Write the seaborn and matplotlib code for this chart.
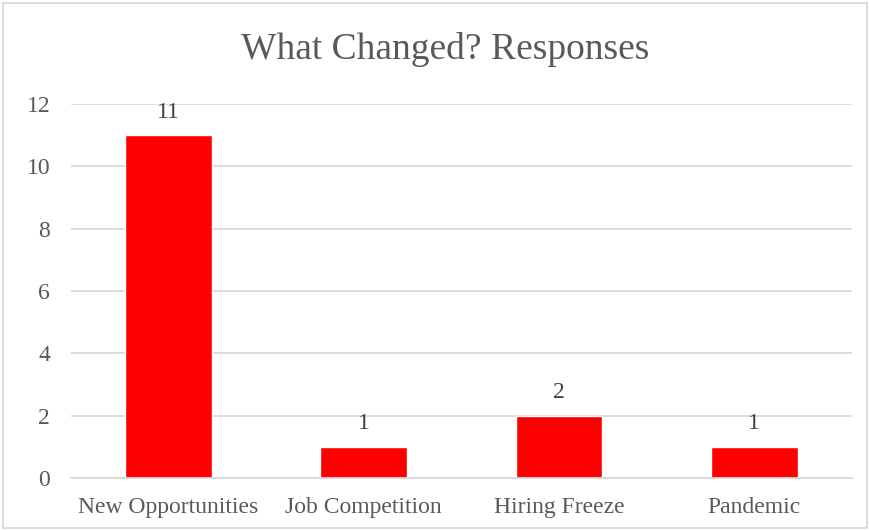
import matplotlib
matplotlib.use("Agg")
import matplotlib.pyplot as plt
import seaborn as sns
import pandas as pd

categories = ["New Opportunities", "Job Competition", "Hiring Freeze", "Pandemic"]
responses = [11, 1, 2, 1]
y_ticks = [0, 2, 4, 6, 8, 10, 12]

df = pd.DataFrame({"category": categories, "responses": responses})

sns.set_style("white")
plt.rcParams["font.family"] = ["Liberation Serif", "DejaVu Serif"]

fig = plt.figure(figsize=(8.7, 5.31), dpi=100)
ax = fig.add_axes([0.0816, 0.0998, 0.8974, 0.7045])

sns.barplot(data=df, x="category", y="responses", color="#FF0000",
            width=0.445, saturation=1, ax=ax)

ax.set_ylim(0, 12)
ax.set_yticks(y_ticks)
ax.yaxis.grid(True, color="#D9D9D9", linewidth=1.3)
ax.set_axisbelow(True)
for s in ["top", "right", "left"]:
    ax.spines[s].set_visible(False)
ax.spines["bottom"].set_color("#D9D9D9")
ax.spines["bottom"].set_linewidth(1.3)
ax.tick_params(axis="both", length=0, labelsize=17, labelcolor="#595959")
ax.tick_params(axis="x", pad=14)
ax.tick_params(axis="y", pad=15)
ax.set_xlabel("")
ax.set_ylabel("")

ax.bar_label(ax.containers[0], fontsize=17, color="#404040", padding=9)

fig.text(0.512, 0.906, "What Changed? Responses", ha="center", va="center",
         fontsize=27, color="#595959")

# outer chart border
fig.add_artist(plt.Rectangle((0.003, 0.005), 0.993, 0.99, transform=fig.transFigure,
                             fill=False, edgecolor="#D9D9D9", linewidth=1.3))

fig.savefig("out.png", dpi=100)
